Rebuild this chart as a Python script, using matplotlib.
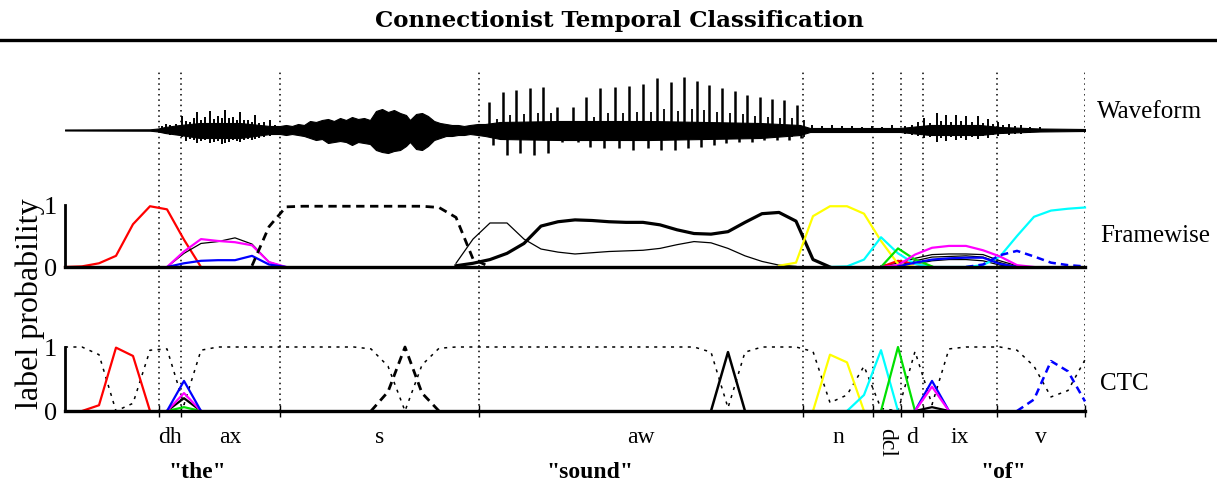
import numpy as np
import matplotlib
matplotlib.use('Agg')
import matplotlib.pyplot as plt
from matplotlib.lines import Line2D

plt.rcParams['font.family'] = ['Liberation Serif', 'DejaVu Serif']

W, H = 1217, 482

# 프레임 단위 음소 경계
bounds = [5.53, 6.82, 12.65, 24.35, 43.41, 47.53, 49.18, 50.47, 54.82, 60.0]
phones = ['dh', 'ax', 's', 'aw', 'n', 'dcl', 'd', 'ix', 'v']
words = ['"the"', '"sound"', '"of"']
word_pos = [7.8, 30.9, 55.2]

# 파형 : 몸통 포락선 (px)
env_t = [0.0, 5.0, 5.47, 5.88, 6.76, 7.94, 10.29, 12.06,
         12.65, 13.0, 13.35, 13.71, 14.06, 14.41, 14.76, 15.12, 15.47, 15.82, 16.18, 16.53,
         16.88, 17.24, 17.59, 17.94, 18.29, 18.65, 19.0, 19.35, 19.71, 20.06, 20.29, 20.65,
         21.0, 21.35, 21.71, 22.06, 22.41, 22.76, 23.12, 23.47, 23.82, 24.29,
         24.71, 25.59, 29.12, 34.41, 40.88, 43.24, 43.82, 49.12, 50.88, 53.82, 55.0, 57.35,
         60.0]
env_top = [0.5, 0.7, 1.5, 3, 5, 7, 7, 4,
           4, 5, 4, 6, 5, 9, 8, 10, 11, 9, 12, 10, 13, 11, 12, 10, 19, 21, 18, 20, 17, 15,
           10, 16, 17, 14, 9, 7, 6, 5, 5, 4, 5, 6,
           6, 8, 9, 9, 7, 5, 2, 2, 5, 5, 3, 1.5, 1]
env_bot = [0.5, 0.7, 1.5, 3, 5, 8, 8, 4,
           4, 5, 4, 5, 6, 8, 10, 9, 13, 12, 11, 12, 15, 12, 13, 14, 20, 22, 23, 21, 20, 16,
           12, 19, 20, 16, 10, 8, 6, 6, 5, 5, 4, 5,
           6, 9, 10, 10, 8, 5, 2, 2, 5, 5, 3, 1.5, 1]

# 파형 : 무성/약한 구간의 잔 스파이크 (the, n, ix)
spike_t = [5.71, 5.94, 6.18, 6.53, 6.88, 7.12, 7.35, 7.59, 7.76, 8.0, 8.24, 8.53, 8.76, 9.0,
           9.24, 9.41, 9.65, 9.88, 10.12, 10.29, 10.53, 10.76, 11.0, 11.18, 11.41, 11.71,
           12.06, 12.35,
           43.94, 44.53, 45.12, 45.71, 46.29, 46.88, 47.47, 48.06, 48.65,
           49.41, 49.82, 50.18, 50.51, 50.88, 51.27, 51.53, 51.85, 52.12, 52.41, 52.71, 53.0,
           53.35, 53.71, 54.0, 54.29, 54.59, 54.86, 55.18, 55.53, 55.88, 56.24, 56.76, 57.35]
spike_top = [4, 6, 5, 6, 14, 9, 8, 12, 18, 10, 13, 19, 11, 14, 12, 20, 12, 13, 10, 18, 10, 10,
             8, 15, 7, 8, 10, 5,
             5, 4, 5, 4, 4, 3, 4, 3, 5,
             4, 5, 8, 12, 7, 17, 9, 15, 8, 15, 9, 14, 8, 14, 7, 11, 6, 8, 5, 6, 4, 5, 3, 3]
spike_bot = [3, 4, 5, 5, 7, 11, 9, 10, 13, 11, 10, 13, 12, 11, 14, 13, 12, 10, 11, 12, 10, 9,
             10, 9, 8, 7, 6, 5,
             3, 3, 3, 3, 3, 3, 3, 3, 3,
             4, 5, 6, 8, 7, 12, 8, 11, 7, 10, 8, 10, 7, 9, 6, 8, 5, 6, 4, 5, 4, 4, 3, 2]

# 파형 : 유성음(aw) 피치 펄스
pulse_t = [24.94, 25.75, 26.53, 27.35, 28.14, 28.96, 29.9, 30.65, 31.47, 32.35, 33.18, 34.02,
           34.81, 35.63, 36.41, 37.16, 37.9, 38.66, 39.41, 40.14, 40.88, 41.61, 42.31, 43.04]
pulse_top = [28, 38, 40, 42, 43, 23, 23, 33, 42, 43, 44, 46, 52, 48, 53, 49, 45, 42, 39, 35,
             33, 31, 30, 25]
trough_t = [25.19, 26.0, 26.78, 27.6, 28.39, 29.21, 30.15, 30.9, 31.72, 32.6, 33.43, 34.27,
            35.06, 35.88, 36.66, 37.41, 38.15, 38.91, 39.66, 40.39, 41.13, 41.86, 42.56, 43.29]
trough_bot = [15, 25, 23, 25, 23, 12, 12, 17, 18, 18, 20, 18, 20, 20, 18, 17, 15, 13, 12, 12,
              10, 10, 10, 8]
sec_t = [25.39, 26.2, 26.98, 27.8, 28.59, 29.41, 30.35, 31.1, 31.92, 32.8, 33.63, 34.47,
         35.26, 36.08, 36.86, 37.61, 38.35, 39.11, 39.86, 40.59, 41.33, 42.06, 42.76, 43.49]
sec_top = [11, 15, 16, 17, 17, 9, 9, 13, 17, 17, 18, 18, 21, 19, 21, 20, 18, 17, 16, 14, 13,
           12, 12, 10]

# Framewise 출력 (시작 프레임, 값)
fw_red = (0, [0, 0.01, 0.06, 0.18, 0.69, 0.98, 0.93, 0.44, 0.0])
fw_mag_ax = (6, [0, 0.25, 0.45, 0.42, 0.40, 0.35, 0.08, 0.0])
fw_blk_ax = (6, [0, 0.22, 0.38, 0.41, 0.47, 0.37, 0.08, 0.0])
fw_blue_ax = (6, [0, 0.06, 0.10, 0.11, 0.11, 0.18, 0.04, 0.0])
fw_s = (11, [0.02, 0.65, 0.97, 0.98, 0.98, 0.98, 0.98, 0.98, 0.98, 0.98, 0.98, 0.96, 0.80,
             0.13, 0.0])
fw_aw_thin = (23, [0.06, 0.45, 0.71, 0.71, 0.45, 0.29, 0.24, 0.21, 0.23, 0.25, 0.26, 0.27,
                   0.30, 0.36, 0.41, 0.39, 0.30, 0.18, 0.09, 0.03, 0.01])
fw_aw = (23, [0.02, 0.06, 0.12, 0.22, 0.38, 0.66, 0.73, 0.76, 0.75, 0.73, 0.72, 0.72, 0.68,
              0.60, 0.54, 0.53, 0.57, 0.72, 0.86, 0.88, 0.74, 0.12, 0.0])
fw_yellow = (42, [0.02, 0.07, 0.82, 0.98, 0.98, 0.86, 0.42, 0.05, 0.0])
fw_cyan = (45, [0, 0.01, 0.12, 0.48, 0.22, 0.05, 0.0, 0.0, 0.0, 0.03, 0.17, 0.50, 0.81, 0.91,
                0.94, 0.96])
fw_green = (48, [0, 0.30, 0.12, 0.01])
fw_red2 = (48, [0, 0.10, 0.05, 0.0])
fw_mag_ix = (48, [0, 0.03, 0.20, 0.31, 0.34, 0.34, 0.27, 0.17, 0.03, 0.0])
fw_blue_ix = (49, [0.01, 0.07, 0.12, 0.14, 0.15, 0.15, 0.05, 0.0])
fw_v = (53, [0.0, 0.04, 0.19, 0.26, 0.17, 0.07, 0.03, 0.01])
fw_blk1 = (48, [0.02, 0.06, 0.14, 0.20, 0.21, 0.21, 0.20, 0.10, 0.02])
fw_blk2 = (49, [0.02, 0.10, 0.16, 0.17, 0.18, 0.16, 0.07, 0.0])
fw_blk3 = (50, [0.05, 0.10, 0.12, 0.12, 0.10, 0.03, 0.0])

# CTC 출력
ctc_blank = [1.0, 1.0, 0.88, 0.0, 0.12, 0.95, 0.97, 0.10, 0.95, 1.0, 1.0, 1.0, 1.0, 1.0, 1.0,
             1.0, 1.0, 1.0, 0.97, 0.70, 0.0, 0.72, 0.98, 1.0, 1.0, 1.0, 1.0, 1.0, 1.0, 1.0,
             1.0, 1.0, 1.0, 1.0, 1.0, 1.0, 1.0, 1.0, 0.92, 0.05, 0.92, 1.0, 1.0, 1.0, 0.93,
             0.13, 0.25, 0.70, 0.04, 0.0, 0.93, 0.10, 0.97, 1.0, 1.0, 1.0, 0.95, 0.70, 0.22,
             0.32, 0.80]
ctc_red = (1, [0, 0.09, 0.99, 0.86, 0.0])
ctc_dh_blk = (6, [0, 0.20, 0])
ctc_dh_green = (6, [0, 0.06, 0])
ctc_dh_mag = (6, [0, 0.28, 0])
ctc_dh_blue = (6, [0, 0.47, 0])
ctc_s = (18, [0, 0.30, 1.0, 0.28, 0.0])
ctc_aw = (38, [0, 0.92, 0])
ctc_yellow = (44, [0, 0.88, 0.76, 0.0])
ctc_cyan = (46, [0, 0.25, 0.95, 0.0])
ctc_green = (48, [0, 1.0, 0.0])
ctc_ix_blk = (50, [0, 0.06, 0])
ctc_ix_mag = (50, [0, 0.38, 0])
ctc_ix_blue = (50, [0, 0.47, 0])
ctc_v = (56, [0, 0.18, 0.78, 0.62, 0.15])


def seg(series):
    start, vals = series
    return np.arange(start, start + len(vals)), vals


def fx(px):
    return px / W


def fy(py):
    return 1 - py / H


fig = plt.figure(figsize=(W / 100, H / 100), dpi=100)

left, right = 65, 1085
xlim = (0, 60)

# 점선 경계용 축
ax_v = fig.add_axes([fx(left), fy(411), fx(right - left), (411 - 70) / H], zorder=0)
ax_v.set_xlim(xlim)
ax_v.set_ylim(0, 1)
ax_v.axis('off')
for b in bounds:
    ax_v.axvline(b, color='black', ls=(0, (1, 2.5)), lw=1.1)

# 파형
ax_w = fig.add_axes([fx(left), fy(190), fx(right - left), 120 / H], zorder=1)
ax_w.patch.set_alpha(0)
ax_w.set_xlim(xlim)
ax_w.set_ylim(-60, 60)
ax_w.axis('off')
ax_w.fill_between(env_t, env_top, -np.array(env_bot), color='black', lw=0.8)
ax_w.vlines(spike_t, -np.array(spike_bot), spike_top, color='black', lw=1.4)
ax_w.vlines(pulse_t, -4, pulse_top, color='black', lw=1.8)
ax_w.vlines(trough_t, -np.array(trough_bot), 4, color='black', lw=1.8)
ax_w.vlines(sec_t, -7, sec_top, color='black', lw=1.3)


def style_panel(ax):
    ax.patch.set_alpha(0)
    ax.set_xlim(xlim)
    ax.set_ylim(0, 1)
    ax.spines['top'].set_visible(False)
    ax.spines['right'].set_visible(False)
    ax.spines['bottom'].set_linewidth(2.4)
    ax.spines['left'].set_linewidth(2.0)
    ax.set_yticks([0, 1])
    ax.set_yticklabels(['0', '1'])
    ax.tick_params(axis='y', length=0, pad=6, labelsize=19)


# Framewise
ax_f = fig.add_axes([fx(left), fy(267), fx(right - left), 62 / H], zorder=2)
style_panel(ax_f)
ax_f.set_xticks([])
kw = dict(clip_on=False, solid_joinstyle='round')
for s in [fw_blk1, fw_blk2, fw_blk3]:
    ax_f.plot(*seg(s), color='black', lw=0.9, **kw)
ax_f.plot(*seg(fw_red), color='red', lw=1.6, **kw)
ax_f.plot(*seg(fw_red2), color='red', lw=1.6, **kw)
ax_f.plot(*seg(fw_blk_ax), color='black', lw=0.9, **kw)
ax_f.plot(*seg(fw_mag_ax), color='magenta', lw=1.6, **kw)
ax_f.plot(*seg(fw_blue_ax), color='blue', lw=1.6, **kw)
ax_f.plot(*seg(fw_s), color='black', lw=2.0, ls=(0, (3, 2)), clip_on=False)
ax_f.plot(*seg(fw_aw_thin), color='black', lw=0.9, **kw)
ax_f.plot(*seg(fw_aw), color='black', lw=2.3, **kw)
ax_f.plot(*seg(fw_yellow), color='yellow', lw=1.6, **kw)
ax_f.plot(*seg(fw_cyan), color='cyan', lw=1.6, **kw)
ax_f.plot(*seg(fw_green), color='#00e000', lw=1.6, **kw)
ax_f.plot(*seg(fw_mag_ix), color='magenta', lw=1.6, **kw)
ax_f.plot(*seg(fw_blue_ix), color='blue', lw=1.6, **kw)
ax_f.plot(*seg(fw_v), color='blue', lw=1.8, ls=(0, (3, 2)), clip_on=False)

# CTC
ax_c = fig.add_axes([fx(left), fy(411), fx(right - left), 64 / H], zorder=2)
style_panel(ax_c)
ax_c.set_xticks(bounds)
ax_c.set_xticklabels([])
ax_c.tick_params(axis='x', direction='inout', length=9, width=1.0)
ax_c.plot(np.arange(len(ctc_blank)), ctc_blank, color='black', lw=1.1, ls=(0, (2, 3.5)),
          clip_on=False)
ax_c.plot(*seg(ctc_red), color='red', lw=1.6, **kw)
ax_c.plot(*seg(ctc_dh_blk), color='black', lw=1.6, **kw)
ax_c.plot(*seg(ctc_dh_green), color='#00e000', lw=1.6, **kw)
ax_c.plot(*seg(ctc_dh_mag), color='magenta', lw=1.6, **kw)
ax_c.plot(*seg(ctc_dh_blue), color='blue', lw=1.6, **kw)
ax_c.plot(*seg(ctc_s), color='black', lw=2.0, ls=(0, (3, 2)), clip_on=False)
ax_c.plot(*seg(ctc_aw), color='black', lw=1.8, **kw)
ax_c.plot(*seg(ctc_yellow), color='yellow', lw=1.6, **kw)
ax_c.plot(*seg(ctc_cyan), color='cyan', lw=1.6, **kw)
ax_c.plot(*seg(ctc_green), color='#00e000', lw=1.6, **kw)
ax_c.plot(*seg(ctc_ix_blk), color='black', lw=1.6, **kw)
ax_c.plot(*seg(ctc_ix_blue), color='blue', lw=1.6, **kw)
ax_c.plot(*seg(ctc_ix_mag), color='magenta', lw=1.6, **kw)
ax_c.plot(*seg(ctc_v), color='blue', lw=1.8, ls=(0, (3, 2)), clip_on=False)

# 음소 / 단어 라벨
mids = [(bounds[i] + bounds[i + 1]) / 2 for i in range(len(phones))]
for p, m in zip(phones, mids):
    if p == 'dcl':
        ax_c.text(m, -0.27, p, rotation=270, ha='center', va='top', fontsize=17,
                  transform=ax_c.get_xaxis_transform())
    else:
        ax_c.text(m, -0.5, p, ha='center', va='baseline', fontsize=17,
                  transform=ax_c.get_xaxis_transform())
for w, m in zip(words, word_pos):
    ax_c.text(m, -1.05, w, ha='center', va='baseline', fontsize=17, fontweight='bold',
              transform=ax_c.get_xaxis_transform())

# 오른쪽 라벨
fig.text(fx(1097), fy(112), 'Waveform', fontsize=18, va='center', ha='left')
fig.text(fx(1100), fy(236), 'Framewise', fontsize=18, va='center', ha='left')
fig.text(fx(1100), fy(384), 'CTC', fontsize=18, va='center', ha='left')
fig.text(fx(30), fy(304), 'label probability', fontsize=23, rotation=90, ha='center',
         va='center')

# 제목과 가로줄
fig.text(fx(619), fy(21), 'Connectionist Temporal Classification', fontsize=16.5,
         fontweight='bold', family='DejaVu Serif', ha='center', va='center')
fig.add_artist(Line2D([0, 1], [fy(40), fy(40)], transform=fig.transFigure, color='black',
                      lw=2.4))

fig.savefig('out.png', dpi=100)
